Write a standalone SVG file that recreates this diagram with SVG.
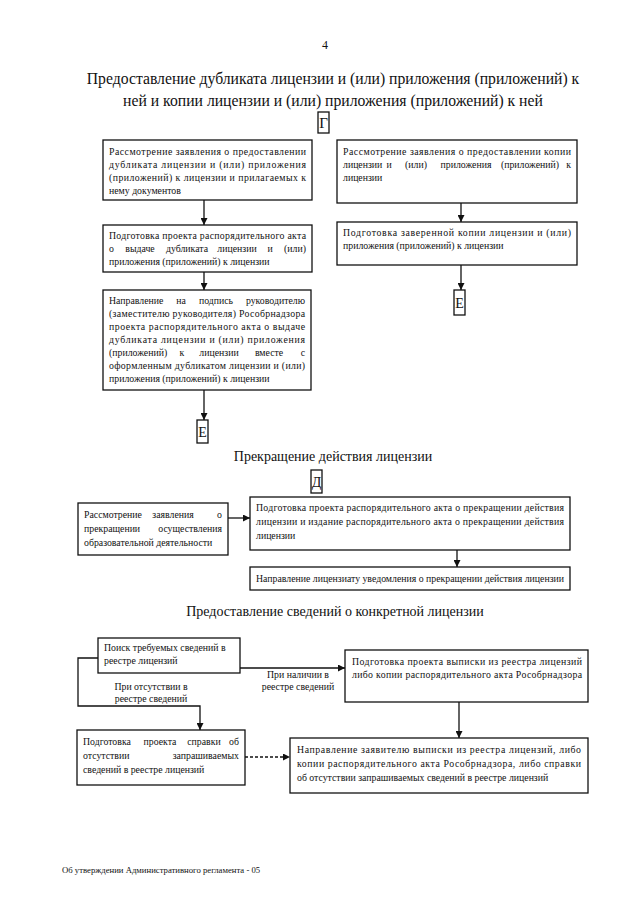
<svg xmlns="http://www.w3.org/2000/svg" width="640" height="905" viewBox="0 0 640 905">
<defs>
<marker id="ah" viewBox="0 0 10 10" refX="10" refY="5" markerWidth="7" markerHeight="7" markerUnits="userSpaceOnUse" orient="auto">
<path d="M0,0 L10,5 L0,10 z" fill="#111"/>
</marker>
<style>
.box{fill:#fff;stroke:#111;stroke-width:1.3}
.t{font-family:"Liberation Serif","Times New Roman",serif;font-size:9.8px;fill:#111}
.h{font-family:"Liberation Serif","Times New Roman",serif;font-size:15.7px;fill:#111;text-anchor:middle}
.h2{font-family:"Liberation Serif","Times New Roman",serif;font-size:14px;fill:#111;text-anchor:middle}
.c{stroke:#111;stroke-width:1.3;fill:none}
.a{marker-end:url(#ah)}
.m{text-anchor:middle}
.e{text-anchor:end}
.lbl{font-family:"Liberation Serif","Times New Roman",serif;font-size:9.8px;fill:#111;text-anchor:middle}
</style>
</defs>
<rect width="640" height="905" fill="#fff"/>
<text x="325" y="49" class="t" style="font-size:12px" text-anchor="middle">4</text>
<text x="333" y="84" class="h">Предоставление дубликата лицензии и (или) приложения (приложений) к</text>
<text x="333" y="106" class="h">ней и копии лицензии и (или) приложения (приложений) к ней</text>
<text x="333" y="461" class="h2">Прекращение действия лицензии</text>
<text x="335" y="616" class="h2">Предоставление сведений о конкретной лицензии</text>

<g id="conn">
<line x1="204" y1="200" x2="204" y2="225" class="c a"/>
<line x1="204" y1="272" x2="204" y2="290" class="c a"/>
<line x1="204" y1="390" x2="204" y2="420" class="c a"/>
<line x1="461" y1="203" x2="461" y2="222" class="c a"/>
<line x1="461" y1="265" x2="461" y2="290" class="c a"/>
<line x1="228" y1="518" x2="250" y2="518" class="c a"/>
<line x1="457" y1="550" x2="457" y2="567" class="c a"/>
<line x1="240" y1="668" x2="345" y2="668" class="c a"/>
<polyline points="98,658 78,658 78,706 200,706 200,730" class="c a"/>
<line x1="245" y1="757" x2="290" y2="757" class="c a" stroke-dasharray="3 2"/>
<line x1="459" y1="702" x2="459" y2="738" class="c a"/>
<text x="298" y="678" class="lbl">При наличии в</text>
<text x="298" y="690" class="lbl">реестре сведений</text>
<text x="151" y="690" class="lbl">При отсутствии в</text>
<text x="151" y="702" class="lbl">реестре сведений</text>
</g>

<g id="g1">
<rect x="318" y="112" width="11" height="21" class="box"/>
<text x="323.5" y="128" class="t" style="font-size:15px" text-anchor="middle">Г</text>
</g>

<g id="a1">
<rect x="103" y="140" width="209" height="60" class="box"/>
<text x="109" y="155" class="t" textLength="197" lengthAdjust="spacing">Рассмотрение заявления о предоставлении</text>
<text x="109" y="168" class="t" textLength="197" lengthAdjust="spacing">дубликата лицензии и (или) приложения</text>
<text x="109" y="181" class="t" textLength="197" lengthAdjust="spacing">(приложений) к лицензии и прилагаемых к</text>
<text x="109" y="194" class="t">нему документов</text>
</g>

<g id="a2">
<rect x="103" y="225" width="209" height="47" class="box"/>
<text x="109" y="239" class="t" textLength="197" lengthAdjust="spacing">Подготовка проекта распорядительного акта</text>
<text y="252" class="t"><tspan x="109">о</tspan><tspan x="140" class="m">выдаче</tspan><tspan x="187" class="m">дубликата</tspan><tspan x="237" class="m">лицензии</tspan><tspan x="270" class="m">и</tspan><tspan x="306" class="e">(или)</tspan></text>
<text x="109" y="265" class="t">приложения (приложений) к лицензии</text>
</g>

<g id="a3">
<rect x="103" y="290" width="208" height="100" class="box"/>
<text y="304" class="t"><tspan x="109">Направление</tspan><tspan x="181" class="m">на</tspan><tspan x="216" class="m">подпись</tspan><tspan x="305" class="e">руководителю</tspan></text>
<text x="109" y="317" class="t" textLength="196" lengthAdjust="spacing">(заместителю руководителя) Рособрнадзора</text>
<text x="109" y="330" class="t" textLength="196" lengthAdjust="spacing">проекта распорядительного акта о выдаче</text>
<text x="109" y="343" class="t" textLength="196" lengthAdjust="spacing">дубликата лицензии и (или) приложения</text>
<text y="356" class="t"><tspan x="109">(приложений)</tspan><tspan x="182" class="m">к</tspan><tspan x="219" class="m">лицензии</tspan><tspan x="269" class="m">вместе</tspan><tspan x="305" class="e">с</tspan></text>
<text x="109" y="369" class="t" textLength="196" lengthAdjust="spacing">оформленным дубликатом лицензии и (или)</text>
<text x="109" y="382" class="t">приложения (приложений) к лицензии</text>
</g>

<g id="e1">
<rect x="197" y="420" width="11" height="23" class="box"/>
<text x="202.5" y="437" class="t" style="font-size:14px" text-anchor="middle">Е</text>
</g>

<g id="b1">
<rect x="337" y="140" width="240" height="63" class="box"/>
<text x="343" y="155" class="t" textLength="228" lengthAdjust="spacing">Рассмотрение заявления о предоставлении копии</text>
<text y="168" class="t"><tspan x="343">лицензии</tspan><tspan x="389" class="m">и</tspan><tspan x="416" class="m">(или)</tspan><tspan x="466" class="m">приложения</tspan><tspan x="530" class="m">(приложений)</tspan><tspan x="571" class="e">к</tspan></text>
<text x="343" y="181" class="t">лицензии</text>
</g>

<g id="b2">
<rect x="337" y="222" width="240" height="43" class="box"/>
<text x="343" y="236" class="t" textLength="228" lengthAdjust="spacing">Подготовка заверенной копии лицензии и (или)</text>
<text x="343" y="249" class="t">приложения (приложений) к лицензии</text>
</g>

<g id="e2">
<rect x="454" y="290" width="11" height="25" class="box"/>
<text x="459.5" y="308" class="t" style="font-size:14px" text-anchor="middle">Е</text>
</g>

<g id="d0">
<rect x="311" y="470" width="11" height="23" class="box"/>
<text x="316.5" y="487" class="t" style="font-size:14px" text-anchor="middle">Д</text>
</g>

<g id="c1">
<rect x="78" y="503" width="150" height="52" class="box"/>
<text y="518" class="t"><tspan x="84">Рассмотрение</tspan><tspan x="173" class="m">заявления</tspan><tspan x="222" class="e">о</tspan></text>
<text y="532" class="t"><tspan x="84">прекращении</tspan><tspan x="222" class="e">осуществления</tspan></text>
<text x="84" y="546" class="t">образовательной деятельности</text>
</g>

<g id="c2">
<rect x="250" y="497" width="320" height="53" class="box"/>
<text x="256" y="511" class="t" textLength="308" lengthAdjust="spacing">Подготовка проекта распорядительного акта о прекращении действия</text>
<text x="256" y="525" class="t" textLength="308" lengthAdjust="spacing">лицензии и издание распорядительного акта о прекращении действия</text>
<text x="256" y="539" class="t">лицензии</text>
</g>

<g id="c3">
<rect x="250" y="567" width="320" height="23" class="box"/>
<text x="256" y="582" class="t">Направление лицензиату уведомления о прекращении действия лицензии</text>
</g>

<g id="s1">
<rect x="98" y="638" width="142" height="35" class="box"/>
<text x="104" y="651" class="t">Поиск требуемых сведений в</text>
<text x="104" y="664" class="t">реестре лицензий</text>
</g>

<g id="s2">
<rect x="345" y="650" width="243" height="52" class="box"/>
<text x="352" y="665" class="t" textLength="230" lengthAdjust="spacing">Подготовка проекта выписки из реестра лицензий</text>
<text x="352" y="678" class="t" textLength="230" lengthAdjust="spacing">либо копии распорядительного акта Рособрнадзора</text>
</g>

<g id="s3">
<rect x="77" y="730" width="168" height="55" class="box"/>
<text y="745" class="t"><tspan x="83">Подготовка</tspan><tspan x="160" class="m">проекта</tspan><tspan x="204" class="m">справки</tspan><tspan x="239" class="e">об</tspan></text>
<text y="759" class="t"><tspan x="83">отсутствии</tspan><tspan x="239" class="e">запрашиваемых</tspan></text>
<text x="83" y="773" class="t">сведений в реестре лицензий</text>
</g>

<g id="s4">
<rect x="290" y="738" width="298" height="55" class="box"/>
<text x="297" y="753" class="t" textLength="284" lengthAdjust="spacing">Направление заявителю выписки из реестра лицензий, либо</text>
<text x="297" y="767" class="t" textLength="284" lengthAdjust="spacing">копии распорядительного акта Рособрнадзора, либо справки</text>
<text x="297" y="781" class="t">об отсутствии запрашиваемых сведений в реестре лицензий</text>
</g>

<text x="62" y="873" class="t" style="font-size:8.7px">Об утверждении Административного регламента - 05</text>
</svg>
